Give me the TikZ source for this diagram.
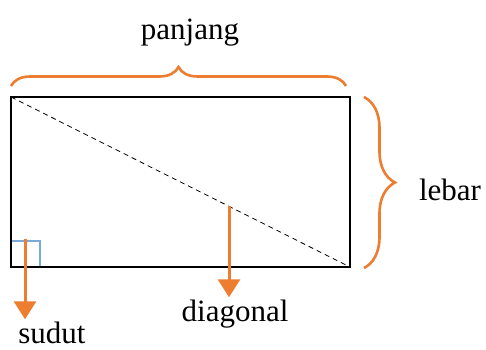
\documentclass[tikz,border=0pt]{standalone}
\usepackage{fontspec}
\setmainfont{Liberation Serif}
\usetikzlibrary{arrows.meta,decorations.pathreplacing}
\definecolor{bracecol}{RGB}{237,125,49}
\definecolor{anglecol}{RGB}{120,170,220}

\begin{document}
\begin{tikzpicture}[x=1pt,y=1pt]
  \useasboundingbox (0,0) rectangle (486,349);
  \fill[white] (0,0) rectangle (486,349);

  \tikzset{
    label/.style={anchor=base,inner sep=2pt,font=\fontsize{31}{34}\selectfont},
    pointer/.style={bracecol,line width=3pt,-{Triangle[width=22pt,length=18pt]}},
    curly/.style={bracecol,line width=2.6pt,decorate}
  }

  % corners of the rectangle
  \coordinate (tl) at (11,252);
  \coordinate (br) at (350,82);
  \coordinate (bl) at (11,82);

  % right-angle mark
  \draw[anglecol,line width=1.2pt] (11,108) -- (40,108) -- (40,82);

  \draw[line width=2pt] (tl) rectangle (br);
  \draw[dashed,line width=0.8pt,dash pattern=on 5pt off 4pt] (tl) -- (br);

  % braces
  \draw[curly,decoration={brace,amplitude=19pt}] (11,263) -- (346,263);
  \draw[curly,decoration={brace,amplitude=31pt}] (364,252) -- (364,81);

  \node[label] (panjang) at (190,309) {panjang};
  \node[label] (lebar) at (450,149) {lebar};
  \node[label] (diagonal) at (235,28) {diagonal};
  \node[label] (sudut) at (52,6) {sudut};

  % arrows to the labels
  \coordinate (dstart) at (229,143);
  \coordinate (sstart) at (25,110);
  \draw[pointer] (dstart) -- (dstart |- diagonal.north);
  \draw[pointer] (sstart) -- (sstart |- sudut.north);
\end{tikzpicture}
\end{document}
